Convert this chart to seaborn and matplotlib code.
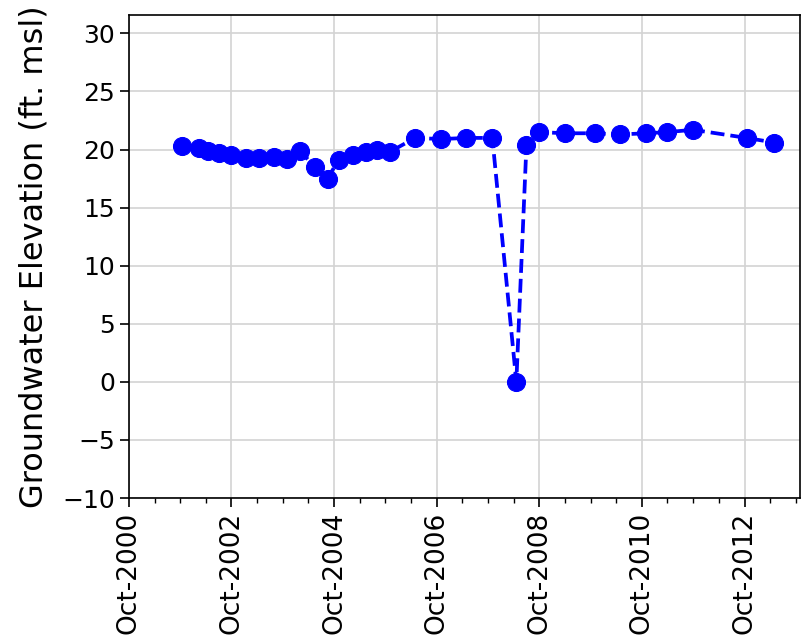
import pandas as pd
import matplotlib
matplotlib.use('Agg')
from matplotlib import pyplot as plt
import matplotlib.dates as mdates
import seaborn as sns

# well hydrograph data
dates = ['2001-10-15', '2002-02-15', '2002-04-15', '2002-07-01', '2002-10-01',
         '2003-01-15', '2003-04-15', '2003-08-01', '2003-11-01', '2004-02-01',
         '2004-05-15', '2004-08-15', '2004-11-01', '2005-02-15', '2005-05-15',
         '2005-08-01', '2005-11-01', '2006-05-01', '2006-11-01', '2007-05-01',
         '2007-11-01', '2008-04-20', '2008-07-01', '2008-10-01', '2009-04-01',
         '2009-11-01', '2010-05-01', '2010-11-01', '2011-04-01', '2011-10-01',
         '2012-10-15', '2013-05-01']
elevation = [20.3, 20.1, 19.9, 19.7, 19.5,
             19.3, 19.3, 19.4, 19.2, 19.9,
             18.5, 17.5, 19.1, 19.5, 19.8,
             20.0, 19.8, 21.0, 20.9, 21.0,
             21.0, 0.0, 20.4, 21.5, 21.4,
             21.4, 21.3, 21.4, 21.5, 21.7,
             21.0, 20.6]

df = pd.DataFrame({'Date': pd.to_datetime(dates), 'Elevation': elevation})

sns.set_style('ticks', rc={'text.color': 'black', 'axes.labelcolor': 'black',
                           'xtick.color': 'black', 'ytick.color': 'black',
                           'axes.edgecolor': 'black'})
plt.rcParams['font.family'] = ['DejaVu Sans']

fig = plt.figure(figsize=(8.01, 6.43), dpi=100)
ax = fig.add_axes([0.161, 0.2255, 0.838, 0.7515])

sns.lineplot(x='Date', y='Elevation', data=df, ax=ax, color='blue', linestyle='--',
             linewidth=2.7, marker='o', markersize=13, markeredgecolor='blue')

ax.set_xlim(pd.Timestamp('2000-10-01'), pd.Timestamp('2013-11-01'))
ax.set_ylim(-10, 31.6)
ax.set_yticks(range(-10, 31, 5))
ax.xaxis.set_major_locator(mdates.YearLocator(base=2, month=10, day=1))
ax.xaxis.set_minor_locator(mdates.MonthLocator(bymonth=[4, 10]))
ax.xaxis.set_major_formatter(mdates.DateFormatter('%b-%Y'))
ax.tick_params(axis='x', labelrotation=90, labelsize=19)
ax.tick_params(axis='y', labelsize=18)
ax.tick_params(which='major', length=6.5, width=1.2)
ax.tick_params(which='minor', length=3.5, width=1)
ax.grid(True, which='major', color='#d3d3d3', linewidth=1.2)
ax.set_xlabel('')
ax.set_ylabel('Groundwater Elevation (ft. msl)', fontsize=23, labelpad=9)
for s in ax.spines.values():
    s.set_linewidth(1.2)

plt.savefig('out.png', dpi=100)
